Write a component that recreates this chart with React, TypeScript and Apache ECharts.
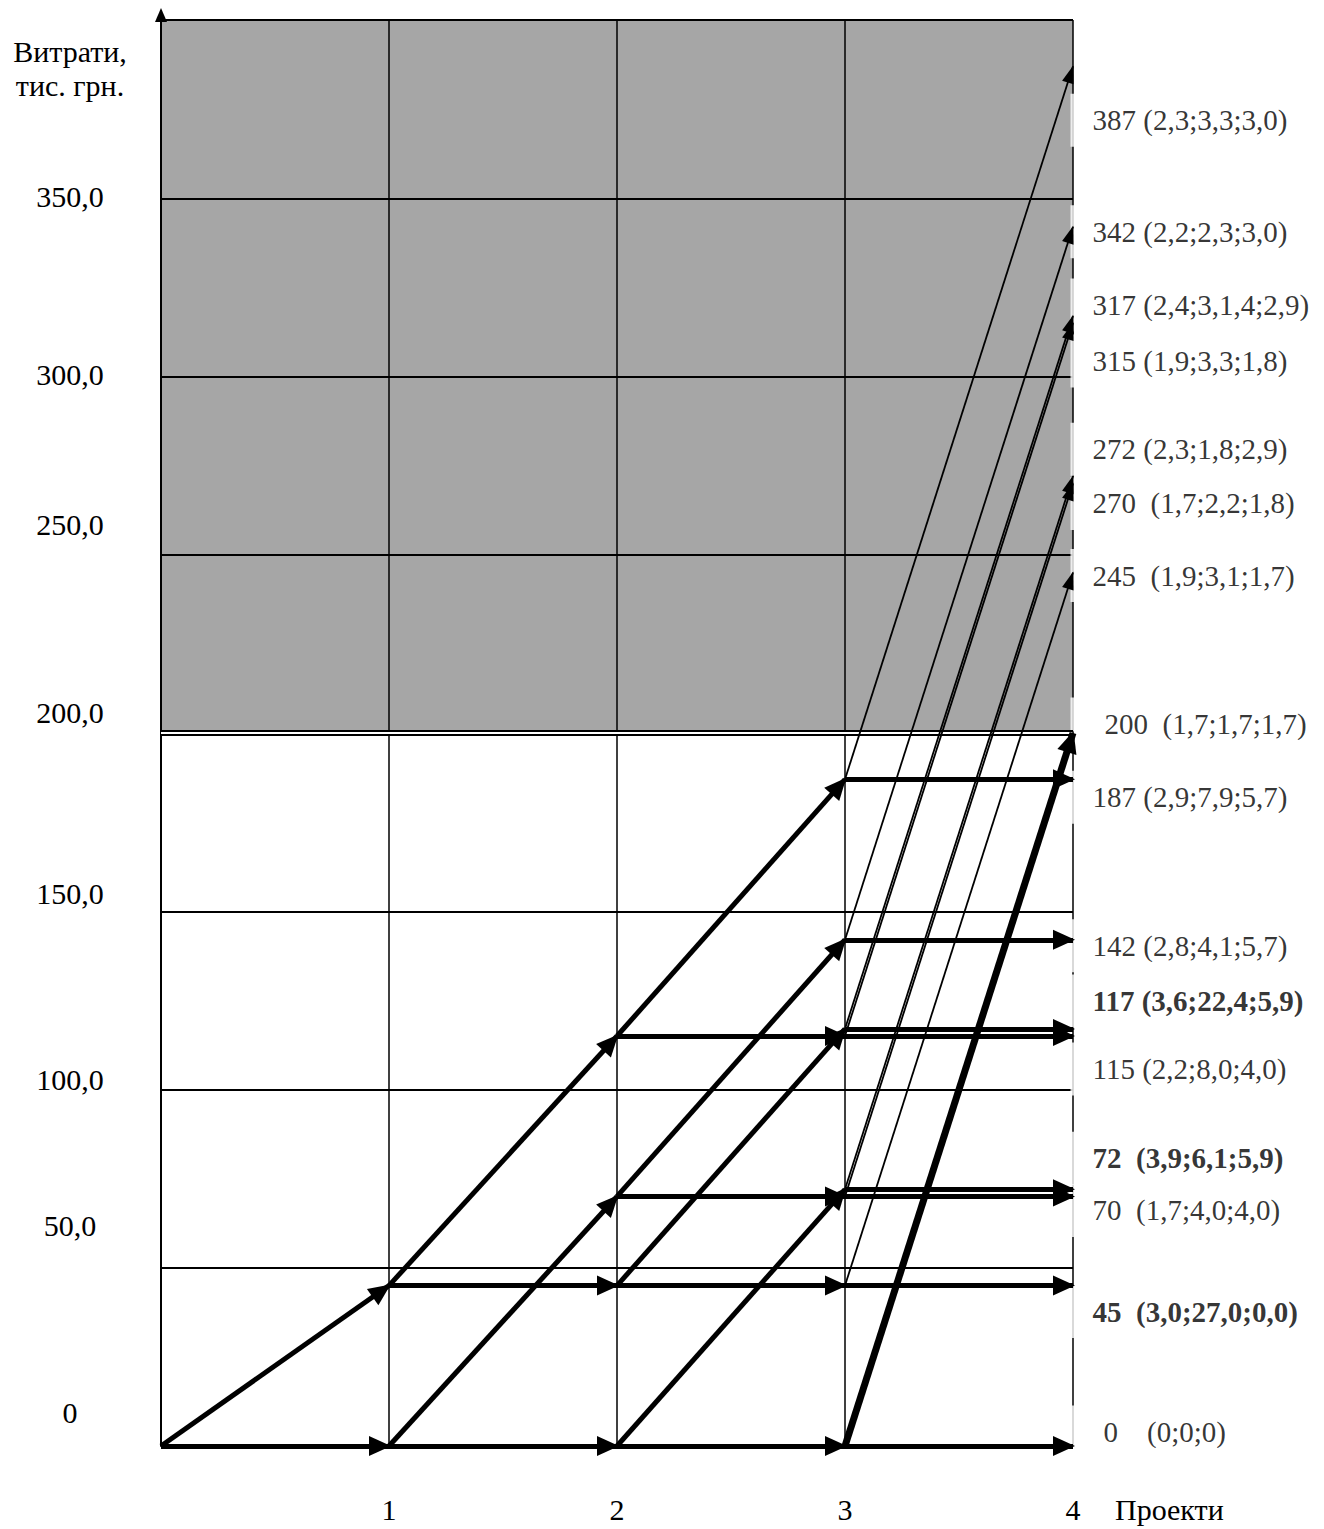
import React, { useEffect, useRef } from 'react';
import * as echarts from 'echarts';

// ---------- data ----------
const stageTickLabels = ['', '1', '2', '3', '4'];
const costTicks = [0, 50, 100, 150, 200, 250, 300, 350];
const costTickLabels = ['0', '50,0', '100,0', '150,0', '200,0', '250,0', '300,0', '350,0'];
const budgetLimit = 200;

// [from project, cost before, cost after]
const mainEdges: [number, number, number][] = [
  [0, 0, 0], [0, 0, 45],
  [1, 0, 0], [1, 0, 70], [1, 45, 45], [1, 45, 115],
  [2, 0, 0], [2, 0, 72], [2, 45, 45], [2, 45, 117], [2, 70, 70], [2, 70, 142], [2, 115, 115], [2, 115, 187],
  [3, 0, 0], [3, 45, 45], [3, 70, 70], [3, 72, 72], [3, 115, 115], [3, 117, 117], [3, 142, 142], [3, 187, 187],
];
const overBudgetEdges: [number, number, number][] = [
  [3, 45, 245], [3, 70, 270], [3, 72, 272], [3, 115, 315], [3, 117, 317], [3, 142, 342], [3, 187, 387],
];
const limitEdges: [number, number, number][] = [[3, 0, 200]];

const outcomeCosts = [387, 342, 317, 315, 272, 270, 245, 200, 187, 142, 117, 115, 72, 70, 45, 0];
const outcomeLabels = [
  '387 (2,3;3,3;3,0)',
  '342 (2,2;2,3;3,0)',
  '317 (2,4;3,1,4;2,9)',
  '315 (1,9;3,3;1,8)',
  '272 (2,3;1,8;2,9)',
  '270  (1,7;2,2;1,8)',
  '245  (1,9;3,1;1,7)',
  '200  (1,7;1,7;1,7)',
  '187 (2,9;7,9;5,7)',
  '142 (2,8;4,1;5,7)',
  '117 (3,6;22,4;5,9)',
  '115 (2,2;8,0;4,0)',
  '72  (3,9;6,1;5,9)',
  '70  (1,7;4,0;4,0)',
  '45  (3,0;27,0;0,0)',
  '0    (0;0;0)',
];
const optimalCosts = [117, 72, 45];

// ---------- styles ----------
const FONT = "'Liberation Serif', 'Times New Roman', serif";
const GRAY = '#a6a6a6';
// vertical lift (px) of y tick texts above their gridline
const tickLift: Record<number, number> = { 0: 34, 50: 42, 100: 10, 150: 18, 200: 21, 250: 30, 300: 2, 350: 2 };
// label placement [left padding, vertical shift] for outcome texts
const outcomeShift: Record<number, [number, number]> = {
  387: [22, 54], 342: [22, 5], 317: [22, -11], 315: [22, 38], 272: [22, -27], 270: [22, 20],
  245: [22, 3], 200: [34, -9], 187: [22, 18], 142: [22, 6], 117: [22, -28], 115: [22, 33],
  72: [22, -31], 70: [22, 14], 45: [22, 26], 0: [33, -14],
};

function edgeLines(edges: [number, number, number][], head: [number, number], back: number) {
  return edges.map(([s, a, b]) => [
    { coord: [s, a], symbol: 'none' },
    { coord: [s + 1, b], symbol: 'triangle', symbolSize: head, symbolOffset: [0, back] },
  ]);
}

function arrowMarkLine(edges: [number, number, number][], width: number, head: [number, number], back: number) {
  return {
    silent: true,
    symbol: ['none', 'triangle'],
    symbolSize: 18,
    label: { show: false },
    emphasis: { disabled: true },
    lineStyle: { color: '#000', width, type: 'solid', opacity: 1 },
    itemStyle: { color: '#000' },
    data: edgeLines(edges, head, back),
  };
}

export default function App() {
  const ref = useRef<HTMLDivElement>(null);

  useEffect(() => {
    document.body.style.margin = '0';
    const chart = echarts.init(ref.current!, null, { renderer: 'svg' });

    const option: any = {
      animation: false,
      grid: { left: 161, right: 251, top: 20, bottom: 83, containLabel: false },
      xAxis: {
        type: 'value',
        min: 0,
        max: 4,
        interval: 1,
        axisLine: { show: false },
        axisTick: { show: false },
        axisLabel: {
          formatter: (v: number) => stageTickLabels[v] ?? '',
          margin: 48,
          color: '#000',
          fontSize: 30,
          fontFamily: FONT,
        },
        splitLine: { show: true, lineStyle: { color: '#000', width: 1.5 } },
        name: 'Проекти',
        nameLocation: 'end',
        nameGap: 42,
        nameTextStyle: {
          color: '#000',
          fontSize: 30,
          fontFamily: FONT,
          align: 'left',
          verticalAlign: 'top',
          padding: [48, 0, 0, 0],
        },
      },
      yAxis: {
        type: 'value',
        min: 0,
        max: 400,
        interval: 50,
        axisLine: {
          show: true,
          lineStyle: { color: '#000', width: 2 },
          symbol: ['none', 'triangle'],
          symbolSize: [12, 14],
          symbolOffset: [0, 5],
        },
        axisTick: { show: false },
        axisLabel: { show: false },
        splitLine: { show: true, lineStyle: { color: '#000', width: 2 } },
        splitArea: {
          show: true,
          areaStyle: { color: ['#ffffff', '#ffffff', '#ffffff', '#ffffff', GRAY, GRAY, GRAY, GRAY], opacity: 1 },
        },
      },
      series: [
        {
          name: 'budget',
          type: 'line',
          data: [],
          markLine: {
            silent: true,
            z: 4,
            symbol: ['none', 'none'],
            label: { show: false },
            emphasis: { disabled: true },
            data: [
              { yAxis: budgetLimit, lineStyle: { color: '#000', width: 6, type: 'solid' } },
              { yAxis: budgetLimit, lineStyle: { color: '#ffffff', width: 2, type: 'solid' } },
            ],
          },
        },
        {
          name: 'outcomes',
          type: 'scatter',
          clip: false,
          symbol: 'rect',
          symbolSize: 1,
          itemStyle: { color: 'rgba(0,0,0,0)' },
          silent: true,
          z: 2,
          data: outcomeCosts.map((v, i) => {
            const [padL, dy] = outcomeShift[v] ?? [22, 0];
            return {
              value: [4, v],
              label: {
                show: true,
                position: 'right',
                distance: 0,
                offset: [-3, dy],
                formatter: outcomeLabels[i],
                color: '#000',
                fontSize: 29,
                fontFamily: FONT,
                fontWeight: optimalCosts.includes(v) ? 'bold' : 'normal',
                backgroundColor: '#ffffff',
                padding: [12, 6, 12, padL],
              },
            };
          }),
        },
        {
          name: 'main',
          type: 'line',
          data: [],
          markLine: arrowMarkLine(mainEdges, 5, [20, 22], 9),
        },
        {
          name: 'over',
          type: 'line',
          data: [],
          markLine: arrowMarkLine(overBudgetEdges, 1.8, [12, 18], 8),
        },
        {
          name: 'limit',
          type: 'line',
          data: [],
          markLine: arrowMarkLine(limitEdges, 7, [20, 22], 9),
        },
      ],
    };

    chart.setOption(option);

    const tickTexts = costTicks.map((v, i) => {
      const py = chart.convertToPixel({ yAxisIndex: 0 }, v) as number;
      return {
        type: 'text',
        silent: true,
        x: 70,
        y: py - (tickLift[v] ?? 0),
        style: {
          text: costTickLabels[i],
          align: 'center',
          verticalAlign: 'middle',
          fontSize: 30,
          fontFamily: FONT,
          fill: '#000',
        },
      };
    });

    chart.setOption({
      graphic: [
        {
          type: 'text',
          silent: true,
          x: 70,
          y: 68,
          style: {
            text: 'Витрати,\nтис. грн.',
            align: 'center',
            verticalAlign: 'middle',
            fontSize: 30,
            lineHeight: 34,
            fontFamily: FONT,
            fill: '#000',
          },
        },
        ...tickTexts,
      ],
    });

    return () => chart.dispose();
  }, []);

  return <div ref={ref} style={{ width: 1324, height: 1529 }} />;
}
